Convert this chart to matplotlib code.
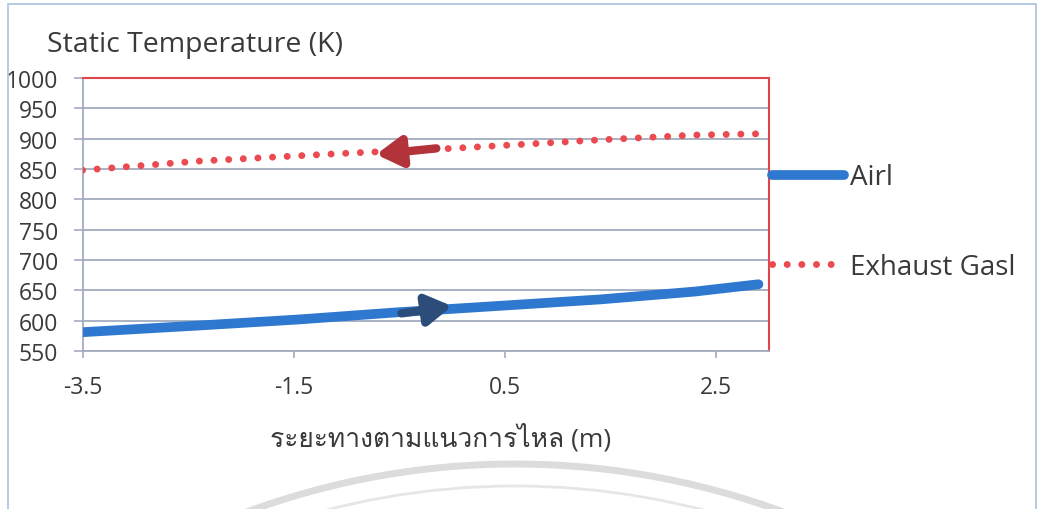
#!/usr/bin/env python3
"""
Static temperature along the flow direction for air and exhaust gas.
"""

import matplotlib
matplotlib.use('Agg')
import matplotlib.pyplot as plt
import matplotlib.patches as patches
from matplotlib import font_manager
from fontTools.ttLib import TTFont

# Data
air_x = [-3.5, -2.4, -1.45, -0.5, 0.5, 1.4, 2.3, 2.9]
air_t = [581, 592, 602, 614, 625, 635, 648, 660]

gas_x = [-3.5, -2.4, -1.0, 0.0, 1.4, 2.3, 2.9]
gas_t = [848, 863, 876, 884, 898, 906, 908]

# direction arrows (start, end) in data units
air_arrow = [(-0.48, 612), (0.0, 624)]
gas_arrow = [(-0.15, 884), (-0.72, 874)]

x_ticks = [-3.5, -1.5, 0.5, 2.5]
y_ticks = list(range(550, 1001, 50))

title = 'Static Temperature (K)'
xlabel = 'ระยะทางตามแนวการไหล (m)'
labels = ['Airl', 'Exhaust Gasl']


def find_thai_font():
    """Return the name of an installed family that has Thai glyphs."""
    for path in sorted(font_manager.findSystemFonts()):
        try:
            cmap = TTFont(path, fontNumber=0, lazy=True).getBestCmap()
        except Exception:
            continue
        if cmap and 0x0E23 in cmap:
            return font_manager.FontProperties(fname=path).get_name()
    return None


thai = find_thai_font()
families = ['Open Sans', 'DejaVu Sans']
if thai:
    families.insert(1, thai)
plt.rcParams['font.family'] = families

text_color = '#3a3a3a'
grid_color = '#a3acbf'
blue = '#2f78cf'
red = '#ea4a50'

fig = plt.figure(figsize=(10.42, 5.10), dpi=100)
W, H = 1042, 510

# outer chart frame
fig.add_artist(patches.Rectangle((8 / W, -0.05), (1036 - 8) / W, 1.05 - 5 / H,
                                 transform=fig.transFigure, fill=False,
                                 edgecolor='#a9c4e0', linewidth=1.2))

# faint watermark arcs at the bottom of the scan (inches from lower left)
fig.add_artist(patches.Arc((5.15, -7.29), 2 * 7.74, 2 * 7.74, theta1=68, theta2=112,
                           transform=fig.dpi_scale_trans, color='#dcdcdc', linewidth=5))
fig.add_artist(patches.Arc((5.15, -7.29), 2 * 7.52, 2 * 7.52, theta1=70, theta2=110,
                           transform=fig.dpi_scale_trans, color='#e6e6e6', linewidth=2))

ax = fig.add_axes([82.5 / W, 1 - 352 / H, (769 - 82.5) / W, (352 - 79) / H])

ax.plot(air_x, air_t, color=blue, linewidth=7, solid_capstyle='round',
        label=labels[0], zorder=3)
ax.plot(gas_x, gas_t, color=red, linewidth=5, linestyle=(0, (0.01, 2.1)),
        dash_capstyle='round', label=labels[1], zorder=3)

arrow_style = '-|>,head_length=0.75,head_width=0.45'
ax.annotate('', xy=air_arrow[1], xytext=air_arrow[0],
            arrowprops=dict(arrowstyle=arrow_style, mutation_scale=20,
                            shrinkA=0, shrinkB=0, color='#2c4d7a', lw=6), zorder=4)
ax.annotate('', xy=gas_arrow[1], xytext=gas_arrow[0],
            arrowprops=dict(arrowstyle=arrow_style, mutation_scale=20,
                            shrinkA=0, shrinkB=0, color='#b3333b', lw=6), zorder=4)

ax.set_xlim(-3.5, 3.0)
ax.set_ylim(550, 1000)
ax.set_xticks(x_ticks)
ax.set_xticklabels([str(v) for v in x_ticks])
ax.set_yticks(y_ticks)

ax.grid(axis='y', color=grid_color, linewidth=1.3)
ax.set_axisbelow(True)

for side in ['top', 'right']:
    ax.spines[side].set_color('#e0454b')
    ax.spines[side].set_linewidth(1.5)
for side in ['left', 'bottom']:
    ax.spines[side].set_color(grid_color)
    ax.spines[side].set_linewidth(1.3)

ax.tick_params(axis='y', length=6.5, width=1.2, color=grid_color, pad=11,
               labelsize=16.5, labelcolor=text_color)
ax.tick_params(axis='x', length=5, width=1.2, color=grid_color, pad=12,
               labelsize=16.5, labelcolor=text_color)

fig.text(47 / W, 1 - 45 / H, title, fontsize=20.5, color=text_color,
         ha='left', va='center')
fig.text(441 / W, 1 - 438 / H, xlabel, fontsize=19, color=text_color,
         ha='center', va='center')

ax.legend(loc='center left', bbox_to_anchor=(772 / W, 1 - 223 / H),
          bbox_transform=fig.transFigure, frameon=False, fontsize=20,
          handlelength=2.6, handletextpad=0.2, labelspacing=2.2,
          borderpad=0, borderaxespad=0, labelcolor=text_color)

fig.savefig('out.png', dpi=100)
